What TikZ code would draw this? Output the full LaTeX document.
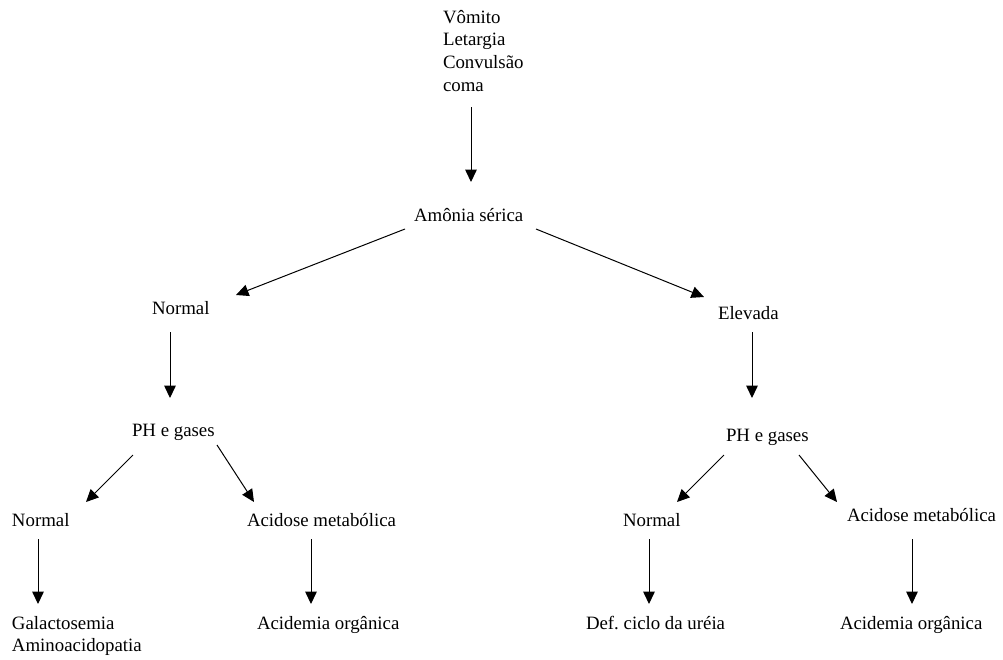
\documentclass[tikz,border=0pt]{standalone}
\usepackage{fontspec}
\setmainfont{Liberation Serif}
\usetikzlibrary{arrows.meta}
\tikzset{
  lbl/.style={inner sep=0pt, outer sep=0pt, font=\fontsize{11.3}{13.6}\selectfont, anchor=base west},
  mlbl/.style={lbl, anchor=north west, align=left},
  arr/.style={-{Triangle[length=7.5pt,width=7pt]}, line width=0.6pt}
}
\begin{document}
\begin{tikzpicture}[x=0.6pt,y=-0.6pt]
\useasboundingbox (0,0) rectangle (1003,659);
\node[mlbl] (top) at (443,10) {Vômito\\Letargia\\Convulsão\\coma};
\node[lbl] (amonia) at (414,221) {Amônia sérica};
\node[lbl] (n1) at (152,314) {Normal};
\node[lbl] (elev) at (718,319) {Elevada};
\node[lbl] (ph1) at (132,436) {PH e gases};
\node[lbl] (ph2) at (726,441) {PH e gases};
\node[lbl] (n2) at (12,526) {Normal};
\node[lbl] (ac1) at (247,526) {Acidose metabólica};
\node[lbl] (n3) at (623,526) {Normal};
\node[lbl] (ac2) at (847,521) {Acidose metabólica};
\node[mlbl] (gal) at (12,616) {Galactosemia\\Aminoacidopatia};
\node[lbl] (acd1) at (257,629) {Acidemia orgânica};
\node[lbl] (def) at (586,629) {Def.\ ciclo da uréia};
\node[lbl] (acd2) at (840,629) {Acidemia orgânica};

\draw[arr] ([shift={(28,97)}]top.north west) -- ([shift={(57,-39)}]amonia.base west);
\draw[arr] ([shift={(-9,8)}]amonia.base west) -- ([shift={(84,-19)}]n1.base west);
\draw[arr] ([shift={(122,8)}]amonia.base west) -- ([shift={(-14,-22)}]elev.base west);
\draw[arr] ([shift={(18,18)}]n1.base west) -- ([shift={(38,-38)}]ph1.base west);
\draw[arr] ([shift={(34,13)}]elev.base west) -- ([shift={(26,-43)}]ph2.base west);
\draw[arr] ([shift={(1,19)}]ph1.base west) -- ([shift={(74,-24)}]n2.base west);
\draw[arr] ([shift={(85,9)}]ph1.base west) -- ([shift={(7,-24)}]ac1.base west);
\draw[arr] ([shift={(-2,14)}]ph2.base west) -- ([shift={(54,-24)}]n3.base west);
\draw[arr] ([shift={(73,14)}]ph2.base west) -- ([shift={(-10,-19)}]ac2.base west);
\draw[arr] ([shift={(26,13)}]n2.base west) -- ([shift={(26,-12)}]gal.north west);
\draw[arr] ([shift={(64,13)}]ac1.base west) -- ([shift={(54,-25)}]acd1.base west);
\draw[arr] ([shift={(26,13)}]n3.base west) -- ([shift={(63,-25)}]def.base west);
\draw[arr] ([shift={(65,18)}]ac2.base west) -- ([shift={(72,-25)}]acd2.base west);
\end{tikzpicture}
\end{document}
